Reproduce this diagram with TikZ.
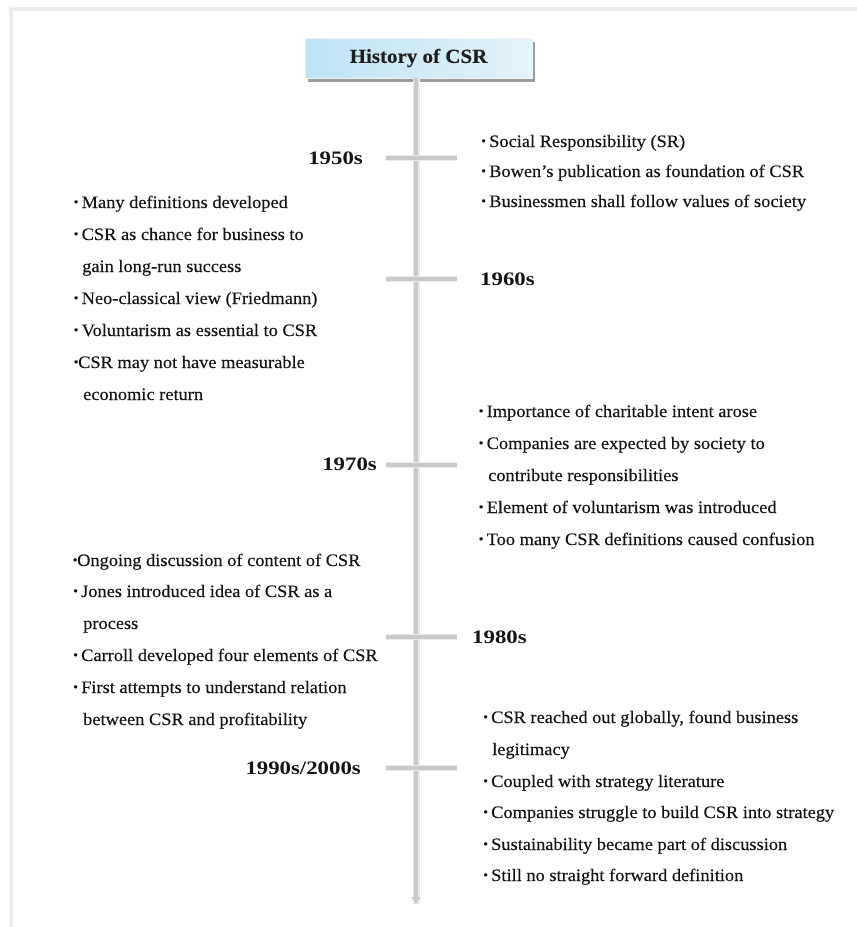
\documentclass[tikz,border=0pt]{standalone}
\usepackage{fontspec}
\usepackage{graphicx}
\setmainfont{Liberation Serif}[FakeStretch=1.05, FakeBold=0.25]
\newfontfamily\yearfont{Liberation Serif}[FakeStretch=1.2]
\usetikzlibrary{shadows,arrows.meta}

% small raised bullet, with and without a gap after it
\newcommand\bul{\makebox[8pt][l]{\raisebox{0.22ex}{\scalebox{0.75}{•}}}}
\newcommand\bulc{\makebox[4.5pt][l]{\raisebox{0.22ex}{\scalebox{0.75}{•}}}}

\definecolor{axisgray}{HTML}{CACACA}
\definecolor{halogray}{HTML}{EAEAEA}
\definecolor{framegray}{HTML}{EDEDED}
\definecolor{titleleft}{HTML}{BDE4F5}
\definecolor{titleright}{HTML}{E4F3FA}
\definecolor{inktext}{HTML}{141414}

\begin{document}
\begin{tikzpicture}[x=1pt,y=-1pt,
  item/.style={anchor=base west, inner sep=0pt, text=inktext,
    font=\fontsize{17.5}{20}\selectfont},
  yearlbl/.style={inner sep=0pt, text=inktext,
    font=\yearfont\fontsize{19}{22}\selectfont\bfseries},
  halo/.style={draw=halogray, line width=7pt},
  axisline/.style={draw=axisgray, line width=3.5pt},
  titlebox/.style={rectangle, minimum width=227pt, minimum height=40pt,
    left color=titleleft, right color=titleright, draw=white!90!gray,
    line width=0.4pt, font=\fontsize{20}{24}\selectfont\bfseries,
    text=black!88,
    drop shadow={shadow xshift=3pt, shadow yshift=-3.5pt, opacity=0.55,
      fill=black!70}}
]
\useasboundingbox (0,0) rectangle (857,927);

% light page frame on the top and left
\fill[framegray] (8.5,7) rectangle (857,11);
\fill[framegray] (8.5,7) rectangle (12.5,927);

% title
\node[titlebox] (title) at (418.5,58) {History of CSR};

% main time axis
\coordinate (axisend) at (416,904);
\draw[halo] (title.south -| axisend) -- (axisend);
\draw[axisline, -{Triangle[length=7pt,width=9pt]}] (title.south -| axisend) -- (axisend);

% tick marks for the decades
\foreach \n/\y in {a/158, b/279, c/465, d/637, e/768}{
  \coordinate (tick\n-l) at (386,\y);
  \coordinate (tick\n-r) at (457,\y);
  \draw[halo, line width=6pt] (tick\n-l) -- (tick\n-r);
  \draw[axisline] (tick\n-l) -- (tick\n-r);
}

% decade labels
\node[yearlbl, anchor=base east] (y1950) at (363,164) {1950s};
\node[yearlbl, anchor=base west] (y1960) at (480,285) {1960s};
\node[yearlbl, anchor=base east] (y1970) at (377,470) {1970s};
\node[yearlbl, anchor=base west] (y1980) at (472,643) {1980s};
\node[yearlbl, anchor=base east] (y1990) at (361,774) {1990s/2000s};

% 1950s
\node[item] (s1) at (481,147) {\bul Social Responsibility (SR)};
\node[item] (s2) at (481,177) {\bul Bowen’s publication as foundation of CSR};
\node[item] (s3) at (481,207) {\bul Businessmen shall follow values of society};

% 1960s
\node[item] (t1) at (73.5,208) {\bul Many definitions developed};
\node[item] (t2) at (73.5,240) {\bul CSR as chance for business to};
\node[item] (t3) at (82,272) {gain long-run success};
\node[item] (t4) at (73.5,304) {\bul Neo-classical view (Friedmann)};
\node[item] (t5) at (73.5,336) {\bul Voluntarism as essential to CSR};
\node[item] (t6) at (73.5,368) {\bulc CSR may not have measurable};
\node[item] (t7) at (83,400) {economic return};

% 1970s
\node[item] (u1) at (478.5,417) {\bul Importance of charitable intent arose};
\node[item] (u2) at (478.5,449) {\bul Companies are expected by society to};
\node[item] (u3) at (488,481) {contribute responsibilities};
\node[item] (u4) at (478.5,513) {\bul Element of voluntarism was introduced};
\node[item] (u5) at (478.5,545) {\bul Too many CSR definitions caused confusion};

% 1980s
\node[item] (v1) at (72.5,566) {\bulc Ongoing discussion of content of CSR};
\node[item] (v2) at (73,597) {\bul Jones introduced idea of CSR as a};
\node[item] (v3) at (83,629) {process};
\node[item] (v4) at (73,661) {\bul Carroll developed four elements of CSR};
\node[item] (v5) at (73,693) {\bul First attempts to understand relation};
\node[item] (v6) at (83,725) {between CSR and profitability};

% 1990s/2000s
\node[item] (w1) at (483,723) {\bul CSR reached out globally, found business};
\node[item] (w2) at (492,755) {legitimacy};
\node[item] (w3) at (483,787) {\bul Coupled with strategy literature};
\node[item] (w4) at (483,818) {\bul Companies struggle to build CSR into strategy};
\node[item] (w5) at (483,850) {\bul Sustainability became part of discussion};
\node[item] (w6) at (483,881) {\bul Still no straight forward definition};
\end{tikzpicture}
\end{document}
